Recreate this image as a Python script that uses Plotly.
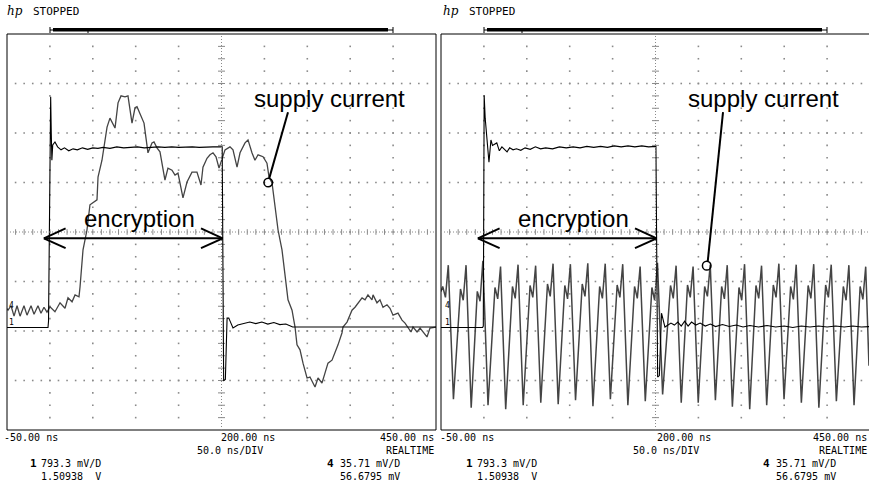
import numpy as np
import plotly.graph_objects as go

# ---------------- data (time in ns, amplitude in screen divisions 0..8) -------------
# Left capture: channel 1 (encryption enable) and channel 4 (supply current)
ch1_left_t = [-50, -2.2, -1.6, 0.9, 1.6, 2.3, 3.3, 5.9, 9, 13, 17, 22, 27, 32, 38, 44, 50, 56, 62,
              70, 78, 86, 94, 102, 110, 118, 126, 134, 142, 150, 158, 166, 174, 182, 190, 198,
              200.8, 202.5, 204.5, 206.5, 208.5, 210, 213.4, 219, 225, 233, 240, 247, 254, 261,
              268, 275, 283, 290, 300, 320, 340, 360, 380, 400, 420, 440, 450]
ch1_left_v = [2.07, 2.07, 2.2, 6.73, 6.0, 5.45, 5.76, 5.82, 5.72, 5.66, 5.7, 5.64, 5.68, 5.66,
              5.7, 5.67, 5.7, 5.69, 5.71, 5.69, 5.72, 5.7, 5.71, 5.72, 5.7, 5.71, 5.72, 5.71,
              5.72, 5.71, 5.72, 5.72, 5.71, 5.72, 5.72, 5.72, 5.72, 1.0, 1.02, 2.26, 2.26, 2.2,
              2.06, 2.12, 2.14, 2.18, 2.15, 2.18, 2.14, 2.17, 2.13, 2.14, 2.08, 2.08, 2.09,
              2.08, 2.09, 2.08, 2.09, 2.08, 2.09, 2.08, 2.08]

ch4_left_t = [-50, -48.8, -45.3, -41.8, -38.3, -34.8, -30.2, -26.7, -22.0, -18.5, -13.9, -10.4,
              -6.9, -3.4, 0.1, 5.9, 11.8, 17.6, 21.1, 25.8, 29.3, 33.9, 35.1, 38.6, 43.2, 46.7,
              54.9, 56.1, 60.7, 66.6, 70.0, 75.9, 79.4, 82.9, 87.5, 91.0, 95.7, 99.2, 101.5,
              105.0, 109.7, 114.3, 119.0, 121.3, 124.8, 128.3, 134.1, 137.6, 142.3, 145.8,
              149.3, 155.1, 159.8, 165.6, 171.4, 176.1, 178.4, 183.1, 186.6, 190.1, 193.6,
              197.1, 200.6, 204.1, 209.9, 213.4, 218.1, 221.6, 227.4, 230.9, 235.5, 239.0,
              242.6, 248.4, 253.0, 255.4, 258.9, 262.4, 265.9, 270.5, 275.2, 277.5, 282.2,
              285.7, 288.0, 291.5, 295.0, 299.7, 303.1, 309.0, 312.5, 317.1, 320.6, 324.1,
              328.8, 332.3, 335.8, 340.4, 341.6, 346.3, 352.1, 355.6, 359.1, 363.8, 367.3,
              370.7, 375.4, 376.6, 381.2, 384.7, 388.2, 392.9, 396.4, 399.9, 405.7, 410.4,
              413.9, 417.4, 420.9, 423.2, 427.9, 431.4, 434.9, 439.5, 443.0, 450.0]
ch4_left_v = [2.45, 2.42, 2.51, 2.30, 2.51, 2.30, 2.51, 2.32, 2.51, 2.34, 2.51, 2.36, 2.48,
              2.38, 2.49, 2.39, 2.57, 2.46, 2.67, 2.59, 2.73, 2.69, 2.89, 3.64, 4.04, 4.55,
              4.65, 5.11, 5.45, 6.12, 6.30, 6.10, 6.61, 6.75, 6.73, 6.75, 6.20, 6.51, 6.53,
              6.40, 6.20, 5.60, 5.80, 5.82, 5.70, 5.62, 5.05, 5.29, 5.25, 5.15, 5.19, 4.69,
              5.01, 5.21, 5.21, 4.95, 5.31, 5.49, 5.56, 5.60, 5.52, 5.29, 5.49, 5.66, 5.72,
              5.66, 5.31, 5.60, 5.80, 5.86, 5.60, 5.45, 5.56, 5.52, 5.39, 5.11, 4.99, 4.51,
              4.04, 3.64, 2.89, 2.63, 2.42, 2.08, 1.72, 1.62, 1.35, 1.05, 1.07, 0.87, 1.05,
              0.95, 1.15, 1.35, 1.41, 1.56, 1.72, 1.96, 2.08, 2.18, 2.42, 2.48, 2.57, 2.67,
              2.63, 2.73, 2.63, 2.73, 2.57, 2.63, 2.48, 2.53, 2.46, 2.32, 2.36, 2.22, 2.16,
              2.06, 1.98, 2.08, 1.98, 2.06, 1.98, 1.88, 2.06, 2.08]

# Right capture
ch1_right_t = [-50, -1.5, -0.7, 0.3, 1.5, 3.5, 5.9, 8.2, 10, 15, 18, 21, 24, 27, 30, 34, 38,
               43, 48, 54, 60, 66, 72, 80, 88, 96, 104, 112, 120, 128, 136, 144, 152, 160, 168,
               176, 184, 192, 200.5, 201.4, 202.5, 204.5, 207, 211, 214.5, 218, 222, 226, 230,
               234, 238, 242, 247, 252, 258, 264, 270, 278, 286, 294, 302, 310, 320, 330, 340,
               350, 360, 370, 380, 390, 400, 410, 420, 430, 440, 450]
ch1_right_v = [2.07, 2.07, 2.1, 6.76, 6.3, 5.8, 5.41, 5.86, 5.75, 5.8, 5.64, 5.72, 5.66, 5.62,
               5.7, 5.66, 5.68, 5.65, 5.7, 5.67, 5.72, 5.68, 5.7, 5.68, 5.72, 5.7, 5.72, 5.7,
               5.73, 5.71, 5.73, 5.71, 5.74, 5.72, 5.74, 5.72, 5.74, 5.72, 5.73, 3.4, 1.07, 1.1,
               2.36, 2.08, 2.12, 2.16, 2.12, 2.18, 2.1, 2.2, 2.1, 2.18, 2.12, 2.16, 2.1, 2.14,
               2.09, 2.13, 2.09, 2.12, 2.08, 2.11, 2.08, 2.11, 2.08, 2.1, 2.07, 2.1, 2.08, 2.1,
               2.08, 2.1, 2.08, 2.1, 2.08, 2.09]

ch4_right_t = [-50, -48.0, -44.8, -41.5, -35.5, -27.3, -24.1, -20.8, -14.8, -7.7, -4.5, -1.2,
               4.8, 12.9, 16.1, 19.4, 25.4, 33.3, 36.5, 39.8, 45.8, 53.8, 57.0, 60.3, 66.3,
               74.1, 77.3, 80.6, 86.6, 94.3, 97.5, 100.8, 106.8, 114.6, 117.8, 121.1, 127.1,
               134.9, 138.1, 141.4, 147.4, 155.3, 158.5, 161.8, 167.8, 175.6, 178.8, 182.1,
               188.1, 195.8, 199.0, 202.3, 208.3, 217.5, 220.7, 224.0, 230.0, 237.3, 240.5,
               243.8, 249.8, 257.3, 260.5, 263.8, 269.8, 277.1, 280.3, 283.6, 289.6, 297.3,
               300.5, 303.8, 309.8, 317.1, 320.3, 323.6, 329.6, 337.3, 340.5, 343.8, 349.8,
               357.5, 360.7, 364.0, 370.0, 377.9, 381.1, 384.4, 390.4, 398.3, 401.5, 404.8,
               410.8, 418.9, 422.1, 425.4, 431.4, 438.5, 441.7, 445.0, 448.8]
ch4_right_v = [2.8, 2.9, 2.68, 3.33, 0.62, 2.85, 2.62, 3.33, 0.45, 2.8, 2.6, 3.42, 0.5, 2.88,
               2.65, 3.3, 0.42, 2.9, 2.66, 3.34, 0.5, 2.92, 2.68, 3.32, 0.55, 2.95, 2.7, 3.36,
               0.52, 2.92, 2.65, 3.35, 0.6, 2.95, 2.7, 3.37, 0.48, 2.9, 2.66, 3.36, 0.62, 2.93,
               2.68, 3.35, 0.5, 2.9, 2.66, 3.3, 0.58, 2.88, 2.62, 3.38, 0.72, 2.92, 2.66, 3.32,
               0.55, 2.93, 2.68, 3.3, 0.55, 2.9, 2.7, 3.34, 0.6, 2.9, 2.65, 3.33, 0.47, 2.88,
               2.62, 3.35, 0.42, 2.92, 2.66, 3.32, 0.5, 2.93, 2.68, 3.36, 0.62, 2.9, 2.64, 3.34,
               0.55, 2.92, 2.66, 3.35, 0.45, 2.93, 2.68, 3.34, 0.58, 2.9, 2.62, 3.33, 0.5, 2.9,
               2.64, 3.3, 1.3]

# time window and labels
t_start, t_end, t_div = -50, 450, 50
bottom_left = ["-50.00 ns", "200.00 ns", "450.00 ns"]
timebase = "50.0 ns/DIV"
mode_text = "REALTIME"
ch1_scale, ch1_offset = "793.3 mV/D", "1.50938  V"
ch4_scale, ch4_offset = "35.71 mV/D", "56.6795 mV"

# annotation anchors (ns, div)
enc_span = (-7.0, 201.4, 3.873)
enc_label = (104.4, 4.28)
sc_label = (326.0, 6.69)
sc_left_pt, sc_left_from = (254.5, 5.0), (277.5, 6.42)
sc_right_pt, sc_right_from = (259.7, 3.32), (278.7, 6.42)

# ---------------- layout helpers ----------------
W, H = 869, 482


def PX(x):
    return x / W


def PY(y):
    return 1 - y / H


Y_TOP, Y_BOT = 34, 430
L0, L1 = 7, 436
R0 = 441
ns_per_px = (t_end - t_start) / (L1 - L0)
right_end = t_start + (W - R0) * ns_per_px

fig = go.Figure()

INK = "#000000"
TRACE4 = "#444444"
DOT = "#8a8a8a"
MONO = "DejaVu Sans Mono"
NB = "\u00a0"


def graticule(xa, ya):
    gx, gy = [], []
    for k in range(1, 10):
        if k == 5:
            continue
        xv = t_start + k * t_div
        for j in range(1, 32):
            gx.append(xv)
            gy.append(j / 4)
    for j in range(1, 8):
        if j == 4:
            continue
        for m in range(1, 50):
            gx.append(t_start + m * t_div / 5)
            gy.append(j)
    fig.add_trace(go.Scatter(x=gx, y=gy, mode="markers", xaxis=xa, yaxis=ya,
                             marker=dict(symbol="square", size=1.6, color=DOT),
                             hoverinfo="skip"))
    cx = [200] * 31
    cy = [j / 4 for j in range(1, 32)]
    fig.add_trace(go.Scatter(x=cx, y=cy, mode="markers", xaxis=xa, yaxis=ya,
                             marker=dict(symbol="line-ew", size=5,
                                         line=dict(color=DOT, width=1)),
                             hoverinfo="skip"))
    hx = [t_start + m * t_div / 5 for m in range(1, 50)]
    fig.add_trace(go.Scatter(x=hx, y=[4] * len(hx), mode="markers", xaxis=xa, yaxis=ya,
                             marker=dict(symbol="line-ns", size=4,
                                         line=dict(color=DOT, width=1)),
                             hoverinfo="skip"))


graticule("x", "y")
graticule("x2", "y2")

for xa, ya, t4, v4, t1, v1, w4 in [("x", "y", ch4_left_t, ch4_left_v, ch1_left_t, ch1_left_v, 1.3),
                                   ("x2", "y2", ch4_right_t, ch4_right_v, ch1_right_t, ch1_right_v, 1.5)]:
    fig.add_trace(go.Scatter(x=t4, y=v4, mode="lines", xaxis=xa, yaxis=ya,
                             line=dict(color=TRACE4, width=w4), hoverinfo="skip"))
    fig.add_trace(go.Scatter(x=t1, y=v1, mode="lines", xaxis=xa, yaxis=ya,
                             line=dict(color=INK, width=1.1), hoverinfo="skip"))

ydom = [PY(Y_BOT), PY(Y_TOP)]
fig.update_layout(
    width=W, height=H, margin=dict(l=0, r=0, t=0, b=0), autosize=False,
    paper_bgcolor="white", plot_bgcolor="rgba(0,0,0,0)", showlegend=False,
    xaxis=dict(domain=[PX(L0), PX(L1)], range=[t_start, t_end], visible=False, anchor="y"),
    yaxis=dict(domain=ydom, range=[0, 8], visible=False, anchor="x"),
    xaxis2=dict(domain=[PX(R0), 1.0], range=[t_start, right_end], visible=False, anchor="y2"),
    yaxis2=dict(domain=ydom, range=[0, 8], visible=False, anchor="x2"),
)

shapes = []
shapes.append(dict(type="rect", xref="paper", yref="paper", x0=PX(L0), x1=PX(L1),
                   y0=PY(Y_BOT), y1=PY(Y_TOP), line=dict(color=INK, width=1)))
for (x0, y0, x1, y1) in [(R0, Y_TOP, R0, Y_BOT), (R0, Y_TOP, W, Y_TOP), (R0, Y_BOT, W, Y_BOT)]:
    shapes.append(dict(type="line", xref="paper", yref="paper", x0=PX(x0), x1=PX(x1),
                       y0=PY(y0), y1=PY(y1), line=dict(color=INK, width=1)))

for xr, yr in [("x", "y"), ("x2", "y2")]:
    shapes.append(dict(type="line", xref=xr, yref=yr, x0=200, x1=200, y0=0, y1=8,
                       line=dict(color=DOT, width=1, dash="1px,2px")))
    shapes.append(dict(type="line", xref=xr, yref=yr, x0=t_start, x1=t_end, y0=4, y1=4,
                       line=dict(color=DOT, width=1, dash="1px,2px")))

for off in [0, 434]:
    shapes.append(dict(type="line", xref="paper", yref="paper", x0=PX(50 + off), x1=PX(393 + off),
                       y0=PY(30), y1=PY(30), line=dict(color=INK, width=1)))
    shapes.append(dict(type="rect", xref="paper", yref="paper", x0=PX(53 + off), x1=PX(388 + off),
                       y0=PY(31.5), y1=PY(28), fillcolor=INK, line=dict(width=0)))
    for xe in [50, 393]:
        shapes.append(dict(type="line", xref="paper", yref="paper", x0=PX(xe + off), x1=PX(xe + off),
                           y0=PY(27), y1=PY(33), line=dict(color=INK, width=1)))
    shapes.append(dict(type="line", xref="paper", yref="paper", x0=PX(88 + off), x1=PX(88 + off),
                       y0=PY(30), y1=PY(33), line=dict(color=INK, width=1)))

a0, a1, ay = enc_span
arm_dx, arm_dy = 25.3, 0.2
for xr, yr in [("x", "y"), ("x2", "y2")]:
    segs = [(a0, ay, a1, ay), (a0, ay, a0 + arm_dx, ay + arm_dy), (a0, ay, a0 + arm_dx, ay - arm_dy),
            (a1, ay, a1 - arm_dx, ay + arm_dy), (a1, ay, a1 - arm_dx, ay - arm_dy)]
    for (x0, y0, x1, y1) in segs:
        shapes.append(dict(type="line", xref=xr, yref=yr, x0=x0, y0=y0, x1=x1, y1=y1,
                           line=dict(color=INK, width=2)))

rx, ry = 5.0, 0.088
for xr, yr, pt, fr in [("x", "y", sc_left_pt, sc_left_from), ("x2", "y2", sc_right_pt, sc_right_from)]:
    shapes.append(dict(type="line", xref=xr, yref=yr, x0=fr[0], y0=fr[1], x1=pt[0] + 1.2, y1=pt[1] + ry,
                       line=dict(color=INK, width=2)))
    shapes.append(dict(type="circle", xref=xr, yref=yr, x0=pt[0] - rx, x1=pt[0] + rx,
                       y0=pt[1] - ry, y1=pt[1] + ry, line=dict(color=INK, width=1.5),
                       fillcolor="rgba(0,0,0,0)"))

fig.update_layout(shapes=shapes)

ann = []


def txt(x, y, s, size=10, anchor="left", family=MONO, xref="paper", yref="paper", align=None):
    if align is None:
        align = "center" if anchor == "center" else anchor
    ann.append(dict(x=x, y=y, xref=xref, yref=yref, text=s, showarrow=False,
                    xanchor=anchor, yanchor="middle", align=align, borderpad=0,
                    font=dict(family=family, size=size, color=INK)))


ROW1, ROW2 = 444, 470
for off in [0, 436]:
    right_x = min(435 + off, 868)
    txt(PX(6 + off), PY(11), "<i>hp</i>", size=12, family="DejaVu Serif")
    txt(PX(32 + off), PY(11), "STOPPED", size=11)
    txt(PX(3 + off), PY(ROW1 - 6.5), bottom_left[0])
    txt(PX(196 + off), PY(ROW1), NB * 4 + bottom_left[1] + "<br>" + timebase, align="left")
    txt(PX(right_x), PY(ROW1), bottom_left[2] + "<br>" + mode_text, anchor="right", align="right")
    txt(PX(29 + off), PY(ROW2 - 6.5), "<b>1</b>", size=11)
    txt(PX(40 + off), PY(ROW2), ch1_scale + "<br>" + ch1_offset.replace(" ", NB), align="left")
    txt(PX(326 + off), PY(ROW2 - 6.5), "<b>4</b>", size=11)
    txt(PX(339 + off), PY(ROW2), ch4_scale + "<br>" + ch4_offset, align="left")
    txt(PX(8 + off), PY(305), "4", size=8)
    txt(PX(8 + off), PY(322), "1", size=8)

for xr, yr in [("x", "y"), ("x2", "y2")]:
    txt(enc_label[0], enc_label[1], "encryption", size=24, anchor="center",
        family="Liberation Sans", xref=xr, yref=yr)
    txt(sc_label[0], sc_label[1], "supply current", size=24, anchor="center",
        family="Liberation Sans", xref=xr, yref=yr)

fig.update_layout(annotations=ann)
fig.write_html("out.html")
